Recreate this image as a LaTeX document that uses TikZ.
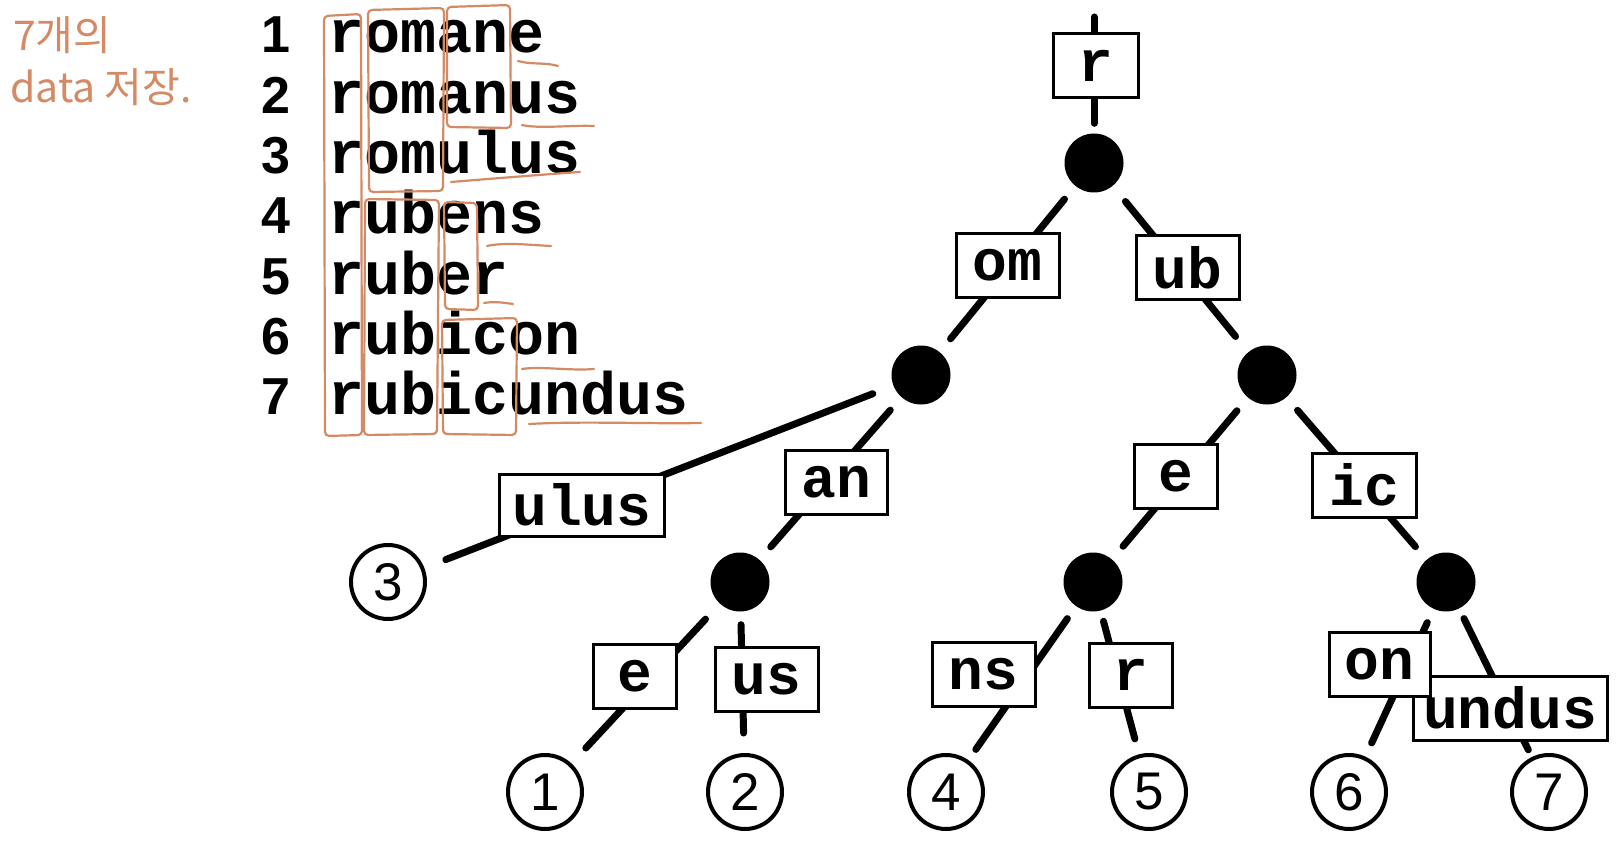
\documentclass[tikz,border=0pt]{standalone}
\usepackage{fontspec}
\setmainfont{Liberation Sans}
\newfontfamily\cour{Liberation Mono}
\newfontfamily\kr{Noto Sans CJK KR}
\definecolor{handc}{RGB}{212,138,100}
\newcommand\labfont{\cour\bfseries\fontsize{58}{60}\selectfont}
\newcommand\wordfont{\cour\bfseries\fontsize{60}{62}\selectfont}
\newcommand\numfont{\bfseries\fontsize{52}{54}\selectfont}
\newcommand\leaffont{\fontsize{53}{55}\selectfont}
\newcommand\krfont{\kr\fontsize{41}{43}\selectfont}
\tikzset{
  edge/.style={line width=7pt, line cap=round, shorten <=17pt, shorten >=17pt},
  inner/.style={circle, fill=black, minimum size=59pt, inner sep=0pt},
  leaf/.style={circle, draw, line width=4pt, minimum size=74pt, inner sep=0pt, font=\leaffont},
  lab/.style={draw, line width=3pt, fill=white, inner sep=0pt, minimum height=64pt, font=\labfont},
  handline/.style={draw=handc, line width=2.2pt, line cap=round, line join=round},
}
\begin{document}
\begin{tikzpicture}[x=1pt, y=-1pt]
\useasboundingbox (0,0) rectangle (1622,845);
\fill[white] (0,0) rectangle (1622,845);

% handwritten note
\node[anchor=base west, inner sep=0pt, text=handc, font=\krfont] (k1) at (13,51) {7개의};
\node[anchor=base west, inner sep=0pt, text=handc, font=\krfont] (k2) at (10,103) {data 저장.};

% word list
\foreach \i/\w [evaluate=\i as \y using 53+(\i-1)*60.33] in
  {1/romane,2/romanus,3/romulus,4/rubens,5/ruber,6/rubicon,7/rubicundus}{
  \node[anchor=base, inner sep=0pt, font=\numfont] (n\i) at (276,\y) {\i};
  \node[anchor=base west, inner sep=0pt, font=\wordfont] (w\i) at (328,\y) {\w};
}

% hand-drawn boxes
\path[handline, rounded corners=4pt] (324,16) -- (361,14) -- (362,435) -- (325,436) -- cycle;
\path[handline, rounded corners=4pt] (368,10) -- (444,8) -- (443,191) -- (369,192) -- cycle;
\path[handline, rounded corners=4pt] (447,7) -- (510,5) -- (511,128) -- (447,127) -- cycle;
\path[handline, rounded corners=4pt] (365,199) -- (439,200) -- (437,434) -- (364,435) -- cycle;
\path[handline, rounded corners=4pt] (444,202) -- (477,203) -- (478,310) -- (445,309) -- cycle;
\path[handline, rounded corners=4pt] (442,320) -- (517,318) -- (516,435) -- (443,434) -- cycle;
% underlines
\path[handline] (518,61) .. controls (532,65) and (545,62) .. (558,66);
\path[handline] (522,125) .. controls (540,129) and (570,125) .. (594,126);
\path[handline] (451,182) .. controls (500,178) and (550,174) .. (580,172);
\path[handline] (487,246) .. controls (505,242) and (530,245) .. (551,246);
\path[handline] (484,303) .. controls (495,301) and (505,303) .. (513,304);
\path[handline] (522,369) .. controls (540,366) and (570,371) .. (594,369);
\path[handline] (529,424) .. controls (580,421) and (650,424) .. (701,423);

% tree nodes
\coordinate (top) at (1094,17);
\node[inner] (root) at (1094,163) {};
\node[inner] (omN) at (921,375) {};
\node[inner] (ubN) at (1267,375) {};
\node[inner] (anN) at (740,582) {};
\node[inner] (eN) at (1093,582) {};
\node[inner] (icN) at (1446,582) {};
\node[leaf] (c3) at (388,582) {3};
\node[leaf] (c1) at (545,792) {1};
\node[leaf] (c2) at (745,792) {2};
\node[leaf] (c4) at (946,792) {4};
\node[leaf] (c5) at (1149,792) {5};
\node[leaf] (c6) at (1349,792) {6};
\node[leaf] (c7) at (1549,792) {7};

% edges
\draw[edge, shorten <=0pt, shorten >=10pt] (top) -- (root);
\draw[edge] (root) -- (omN);
\draw[edge, shorten <=20pt, shorten >=20pt] (root) -- (ubN);
\draw[edge, shorten <=22pt, shorten >=23pt] (omN) -- (c3);
\draw[edge] (omN) -- (anN);
\draw[edge, shorten <=21pt, shorten >=21pt] (anN) -- (c1);
\draw[edge, shorten <=13pt, shorten >=20pt] (anN) -- (c2);
\draw[edge] (ubN) -- (eN);
\draw[edge] (ubN) -- (icN);
\draw[edge, shorten <=15pt, shorten >=13pt] (eN) -- (c4);
\draw[edge, shorten <=11pt, shorten >=16pt] (eN) -- (c5);
\draw[edge, shorten <=15pt, shorten >=15pt] (icN) -- (c6);
\draw[edge, shorten <=11pt, shorten >=8pt] (icN) -- (c7);

% edge labels
\node[lab, minimum width=85pt] (Lr) at (1095.5,66) {r};
\node[lab, minimum width=103pt] (Lom) at (1007.5,265) {om};
\node[lab, minimum width=103pt] (Lub) at (1187.5,267.5) {ub};
\node[lab, minimum width=165pt, minimum height=62pt] (Lulus) at (582,505) {ulus};
\node[lab, minimum width=102pt] (Lan) at (836,482) {an};
\node[lab, minimum width=83pt] (Le) at (634.5,676.5) {e};
\node[lab, minimum width=103pt] (Lus) at (766.5,679.5) {us};
\node[lab, minimum width=83pt] (Le2) at (1175.5,476) {e};
\node[lab, minimum width=104pt] (Lic) at (1364,485) {ic};
\node[lab, minimum width=103pt] (Lns) at (983.5,674.5) {ns};
\node[lab, minimum width=83pt] (Lr2) at (1130.5,675) {r};
\node[lab, minimum width=194pt] (Lundus) at (1510,708) {undus};
\node[lab, minimum width=101pt] (Lon) at (1379.5,664) {on};
\end{tikzpicture}
\end{document}
